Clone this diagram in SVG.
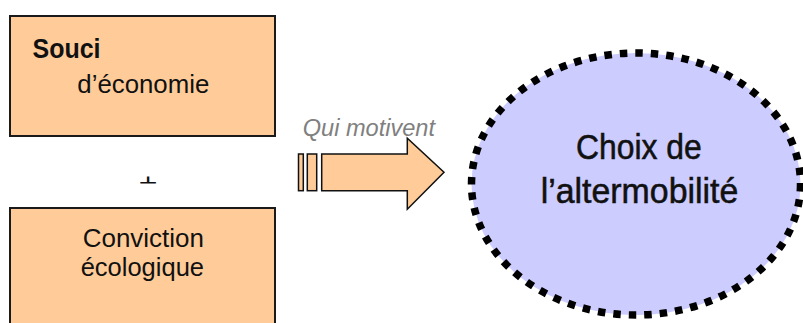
<svg xmlns="http://www.w3.org/2000/svg" width="803" height="323" viewBox="0 0 803 323">
<style>
.box{fill:#ffcc99;stroke:#1a1a1a;stroke-width:2}
.t{font-family:"Liberation Sans",Arial,sans-serif;fill:#111}
.arr{fill:#ffcc99;stroke:#111;stroke-width:1.5;stroke-linejoin:miter}
</style>
<defs>
<clipPath id="plusclip"><rect x="130" y="176.5" width="40" height="7"/></clipPath>
</defs>
<rect width="803" height="323" fill="#ffffff"/>
<g id="souci">
<rect class="box" x="10" y="16" width="265" height="120"/>
<text class="t" x="32.5" y="58.3" font-size="27" font-weight="bold" textLength="68" lengthAdjust="spacingAndGlyphs">Souci</text>
<text class="t" x="77.3" y="92.7" font-size="25.5" textLength="132" lengthAdjust="spacingAndGlyphs">d’économie</text>
</g>
<g id="plus" clip-path="url(#plusclip)">
<text class="t" x="148" y="193.6" font-size="32" text-anchor="middle">+</text>
</g>
<g id="conviction">
<rect class="box" x="10" y="208" width="265" height="130"/>
<text class="t" x="82.7" y="247" font-size="26" textLength="121.3" lengthAdjust="spacingAndGlyphs">Conviction</text>
<text class="t" x="80.7" y="276" font-size="25" textLength="123.3" lengthAdjust="spacingAndGlyphs">écologique</text>
</g>
<g id="connectors">
<rect class="arr" x="298.5" y="154" width="4.8" height="36.7"/>
<rect class="arr" x="307.3" y="154" width="9.4" height="36.7"/>
<path class="arr" d="M321.7,154 L407.3,154 L407.3,138.3 L444,172.3 L407.3,209.3 L407.3,190.7 L321.7,190.7 Z"/>
<text transform="translate(302.7,136) scale(1,1.05)" font-family="'Liberation Sans',Arial,sans-serif" font-size="23.5" font-style="italic" fill="#808080" textLength="132.3" lengthAdjust="spacingAndGlyphs">Qui motivent</text>
</g>
<g id="choix">
<ellipse cx="636" cy="184" rx="164.5" ry="131" fill="#ccccff" stroke="#000" stroke-width="7.5" stroke-dasharray="7.5 8"/>
<text class="t" transform="translate(576,159.3) scale(1,1.1)" font-size="32" stroke="#111" stroke-width="0.5" textLength="125.7" lengthAdjust="spacingAndGlyphs">Choix de</text>
<text class="t" transform="translate(540.7,203.3) scale(1,1.1)" font-size="32" stroke="#111" stroke-width="0.5" textLength="197.6" lengthAdjust="spacingAndGlyphs">l’altermobilité</text>
</g>
</svg>
